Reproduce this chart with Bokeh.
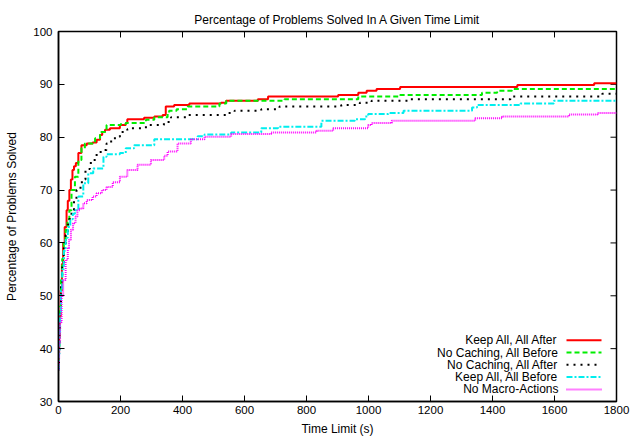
from bokeh.plotting import figure
from bokeh.models import FixedTicker, Range1d, Label, Arrow
from bokeh.embed import file_html
from bokeh.resources import INLINE

FONT = "Liberation Sans"

title_text = "Percentage of Problems Solved In A Given Time Limit"
x_label = "Time Limit (s)"
y_label = "Percentage of Problems Solved"
x_ticks = [0, 200, 400, 600, 800, 1000, 1200, 1400, 1600, 1800]
y_ticks = [30, 40, 50, 60, 70, 80, 90, 100]

names = ["Keep All, All After", "No Caching, All Before", "No Caching, All After",
         "Keep All, All Before", "No Macro-Actions"]

ka_aa_x = [0, 1, 2, 4, 7, 11, 15, 20, 26, 30, 35, 40, 45, 50, 56, 64, 74, 91, 110, 123, 134, 141, 150,
           166, 198, 217, 222, 276, 309, 336, 346, 373, 422, 524, 541, 643, 676, 902, 967, 994, 1026,
           1102, 1480, 1728, 1800]
ka_aa_y = [36, 39, 42, 46, 51, 56, 60, 63, 66.2, 68, 70, 72, 73.8, 74.5, 75.1, 77, 78.5, 78.8, 79, 79.5,
           80.4, 81, 81.4, 81.7, 82.3, 82.7, 83.4, 83.7, 83.9, 84.2, 85.8, 86.1, 86.4, 86.5, 86.9, 87.2,
           87.7, 88, 88.4, 88.8, 89.1, 89.5, 89.9, 90.2, 90.2]

nc_ab_x = [0, 1, 3, 5, 8, 12, 17, 23, 29, 35, 42, 53, 64, 74, 85, 118, 134, 155, 201, 217, 282, 309,
           352, 357, 381, 417, 519, 541, 718, 729, 967, 1102, 1366, 1415, 1463, 1800]
nc_ab_y = [36, 40, 44, 48, 53, 57, 60, 62.5, 64.5, 66.2, 70, 72.5, 75.7, 77.9, 78.8, 79.8, 81, 82.3,
           82.5, 82.7, 83.3, 83.8, 84.5, 85, 85.3, 85.8, 86.4, 86.9, 86.9, 87.2, 87.7, 88, 88.4, 88.8,
           89.1, 89.1]

nc_aa_x = [0, 1, 3, 5, 8, 12, 17, 23, 30, 36, 42, 50, 58, 71, 80, 87, 101, 109, 123, 136, 155, 163,
           182, 198, 222, 233, 282, 340, 363, 411, 545, 568, 654, 713, 912, 972, 1010, 1134, 1458,
           1754, 1800]
nc_aa_y = [36, 39, 43, 47, 52, 56, 59, 61.5, 63.5, 65, 66.2, 68, 70, 71.5, 72, 74, 75.1, 75.7, 77,
           77.6, 78.8, 79.2, 80.1, 81, 81.5, 81.7, 82.3, 82.9, 83.8, 84.2, 84.6, 85, 85.3, 85.8, 86.1,
           86.5, 86.9, 87.2, 87.7, 88.2, 88.2]

ka_ab_x = [0, 1, 3, 5, 8, 12, 17, 23, 30, 38, 46, 53, 64, 80, 96, 112, 145, 155, 198, 217, 244, 309,
           449, 471, 557, 654, 708, 848, 956, 989, 999, 1064, 1113, 1334, 1350, 1490, 1598, 1800]
ka_ab_y = [36, 39, 43, 47, 51, 55, 58.5, 61, 63, 64.5, 65.5, 66.2, 68.8, 71.3, 73.2, 74.1, 76.3, 76.8,
           77, 77.9, 78.5, 79.6, 80.2, 80.5, 80.9, 81.7, 82, 83.1, 83.4, 83.9, 84.4, 84.6, 85, 85.6,
           86.1, 86.4, 86.9, 86.9]

nm_x = [0, 1, 2, 5, 10, 15, 23, 30, 34, 40, 47, 55, 61, 69, 80, 91, 110, 123, 140, 155, 175, 198, 222,
        255, 298, 341, 352, 384, 427, 471, 557, 686, 832, 886, 999, 1010, 1075, 1344, 1431, 1647, 1739,
        1800]
nm_y = [36, 38, 41, 45, 50, 53, 56.8, 59, 60.6, 62.5, 63.7, 65, 66.2, 66.5, 67.5, 68.1, 68.8, 69.4, 70,
        70.6, 71.5, 72.5, 73.8, 74.8, 75.7, 76.5, 77.3, 78.8, 79.6, 80.1, 80.6, 80.9, 81.2, 81.7, 82.3,
        82.7, 83.1, 83.6, 83.9, 84.3, 84.6, 84.6]

series = [
    (ka_aa_x, ka_aa_y, "#ff0000", None, 2),
    (nc_ab_x, nc_ab_y, "#00ee00", "5 3", 2),
    (nc_aa_x, nc_aa_y, "#000000", "2 5", 2),
    (ka_ab_x, ka_ab_y, "#00eeee", "6 2 2 2", 2),
    (nm_x, nm_y, "#ff00ff", "1 1", 2),
]

X0, X1, Y0, Y1 = 0, 1800, 30, 100
p = figure(width=630, height=438, output_backend="svg", toolbar_location=None,
           x_range=Range1d(X0, X1), y_range=Range1d(Y0, Y1),
           min_border_left=58, min_border_right=14, min_border_top=31, min_border_bottom=36)

p.title.text = title_text
p.title.align = "center"
p.title.text_font = FONT
p.title.text_font_size = "12px"
p.title.text_font_style = "normal"
p.title.text_color = "black"
p.title.standoff = 10

p.xgrid.visible = False
p.ygrid.visible = False
p.outline_line_color = "black"
p.outline_line_width = 1.5
p.outline_line_alpha = 1

for ax, ticks, lab in [(p.xaxis[0], x_ticks, x_label), (p.yaxis[0], y_ticks, y_label)]:
    ax.ticker = FixedTicker(ticks=ticks)
    ax.axis_label = lab
    ax.axis_label_text_font = FONT
    ax.axis_label_text_font_size = "12px"
    ax.axis_label_text_font_style = "normal"
    ax.axis_label_text_color = "black"
    ax.major_label_text_font = FONT
    ax.major_label_text_font_size = "11.5px"
    ax.major_label_text_color = "black"
    ax.major_tick_in = 6
    ax.major_tick_out = 0
    ax.major_tick_line_color = "black"
    ax.minor_tick_in = 0
    ax.minor_tick_out = 0
    ax.axis_line_color = "black"
    ax.axis_line_width = 1.5
p.xaxis[0].major_label_standoff = 4
p.xaxis[0].axis_label_standoff = 5
p.yaxis[0].major_label_standoff = 6
p.yaxis[0].axis_label_standoff = 11

# mirrored tick marks on the top and right edges (length ~6px, like the bottom/left ones)
tick_len_y = 6 / 371 * (Y1 - Y0)
tick_len_x = 6 / 558 * (X1 - X0)
p.segment(x0=x_ticks, x1=x_ticks, y0=[Y1] * len(x_ticks), y1=[Y1 - tick_len_y] * len(x_ticks),
          line_color="black", line_width=1)
p.segment(x0=[X1] * len(y_ticks), x1=[X1 - tick_len_x] * len(y_ticks), y0=y_ticks, y1=y_ticks,
          line_color="black", line_width=1)

for (xs, ys, color, dash, lw) in series:
    kw = dict(line_color=color, line_width=lw, mode="after")
    if dash:
        kw["line_dash"] = dash
    p.step(xs, ys, **kw)

# gnuplot-style key: right-aligned text, line sample to its right
row_y = [61.3, 49.0, 36.7, 24.4, 12.1]
for name, (xs, ys, color, dash, lw), ry in zip(names, series, row_y):
    p.add_layout(Label(x=500, y=ry, x_units="screen", y_units="screen", text=name,
                       text_align="right", text_baseline="middle", text_font=FONT,
                       text_font_size="12px", text_color="black"))
    akw = dict(end=None, x_start=508, y_start=ry, x_end=543, y_end=ry,
               start_units="screen", end_units="screen", line_color=color, line_width=lw)
    if dash:
        akw["line_dash"] = dash
    p.add_layout(Arrow(**akw))

open("out.html", "w").write(file_html(p, INLINE))
